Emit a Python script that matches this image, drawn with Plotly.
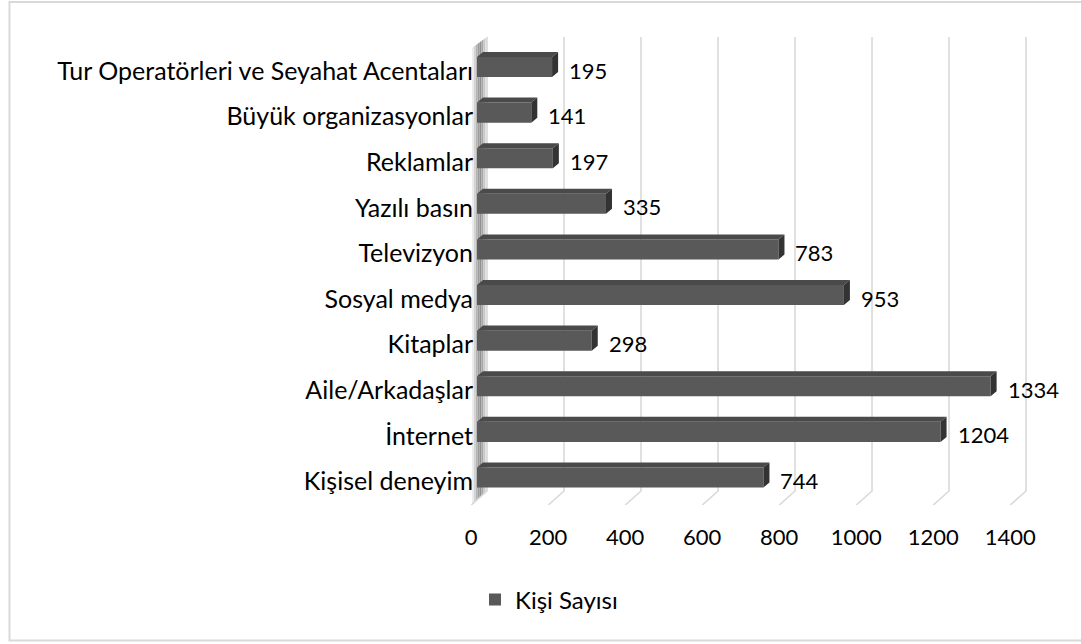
import plotly.graph_objects as go

# ---- data ----
categories = ["Kişisel deneyim", "İnternet", "Aile/Arkadaşlar", "Kitaplar", "Sosyal medya",
              "Televizyon", "Yazılı basın", "Reklamlar", "Büyük organizasyonlar",
              "Tur Operatörleri ve Seyahat Acentaları"]
values = [744, 1204, 1334, 298, 953, 783, 335, 197, 141, 195]
x_ticks = [0, 200, 400, 600, 800, 1000, 1200, 1400]
series_name = "Kişi Sayısı"

# ---- styling / 3D-look parameters (in axis units) ----
FONT = "Lato"
BAR_W = 0.44          # bar thickness (category units)
DX, DY = 15.6, 0.11   # bar depth offset
BACK_X = 26           # back wall shift
FRONT_X = -15         # floor front shift (tick label position)
X_RANGE = [-18.2, 1462.3]
Y_RANGE = [-0.603, 9.658]
Y_FLOOR_BACK = -0.296
Y_WALL_FRONT_TOP = 9.417
WALL_COLORS = ["#ededed", "#d2d2d2", "#b5b5b5", "#9c9c9c", "#909090", "#a6a6a6", "#c6c6c6", "#e0e0e0"]

ypos = list(range(len(categories)))

fig = go.Figure()

# front faces of bars
fig.add_trace(go.Bar(
    x=values, y=ypos, orientation="h", width=BAR_W, name=series_name,
    marker=dict(color="#595959", line=dict(width=0)), showlegend=True,
    hoverinfo="skip"))

# top faces and end faces
tx, ty, sx, sy = [], [], [], []
for v, yc in zip(values, ypos):
    t = yc + BAR_W / 2
    b = yc - BAR_W / 2
    tx += [0, v, v + DX, DX, 0, None]
    ty += [t, t, t + DY, t + DY, t, None]
    sx += [v, v + DX, v + DX, v, v, None]
    sy += [b, b + DY, t + DY, t, b, None]
fig.add_trace(go.Scatter(x=tx, y=ty, mode="lines", fill="toself",
                         fillcolor="#4a4a4a", line=dict(width=0, color="#4a4a4a"),
                         hoverinfo="skip", showlegend=False))
fig.add_trace(go.Scatter(x=sx, y=sy, mode="lines", fill="toself",
                         fillcolor="#333333", line=dict(width=0, color="#333333"),
                         hoverinfo="skip", showlegend=False))

# left side wall (drawn as strips below the traces)
n = len(WALL_COLORS)
for i, col in enumerate(WALL_COLORS):
    f0, f1 = i / n, (i + 1) / n
    xa = FRONT_X + 2 + f0 * (BACK_X - FRONT_X - 2)
    xb = FRONT_X + 2 + f1 * (BACK_X - FRONT_X - 2)
    ta = Y_WALL_FRONT_TOP + f0 * (Y_RANGE[1] - Y_WALL_FRONT_TOP)
    tb = Y_WALL_FRONT_TOP + f1 * (Y_RANGE[1] - Y_WALL_FRONT_TOP)
    ba = Y_RANGE[0] + f0 * (Y_FLOOR_BACK - Y_RANGE[0])
    bb = Y_RANGE[0] + f1 * (Y_FLOOR_BACK - Y_RANGE[0])
    fig.add_shape(type="path", xref="x", yref="y", layer="below",
                  path=f"M{xa},{ta} L{xb},{tb} L{xb},{bb} L{xa},{ba} Z",
                  fillcolor=col, line=dict(width=0))

# gridlines (back wall + floor diagonal), below the bars
for v in x_ticks:
    fig.add_shape(type="path", xref="x", yref="y", layer="below",
                  path=f"M{v + BACK_X},{Y_RANGE[1]} L{v + BACK_X},{Y_FLOOR_BACK} L{v + FRONT_X},{Y_RANGE[0]}",
                  line=dict(color="#d9d9d9", width=1.6))

# value labels
for v, yc in zip(values, ypos):
    fig.add_annotation(x=v, y=yc, xref="x", yref="y", text=str(v), showarrow=False,
                       xanchor="left", yanchor="middle", xshift=15, yshift=-3,
                       font=dict(family=FONT, size=22, color="#000000"))

W, H = 1081, 644
L, R, T, B = 470, 41, 37, 139
pw, ph = W - L - R, H - T - B


def px_x(p):
    return (p - L) / pw


def px_y(p):
    return 1 - (p - T) / ph


# outer border
fig.add_shape(type="rect", xref="paper", yref="paper",
              x0=px_x(9.5), x1=px_x(1090), y0=px_y(2), y1=px_y(640.5),
              line=dict(color="#d9d9d9", width=2), fillcolor="rgba(0,0,0,0)", layer="below")

fig.update_layout(
    width=W, height=H,
    margin=dict(l=L, r=R, t=T, b=B),
    paper_bgcolor="white", plot_bgcolor="white",
    font=dict(family=FONT, size=22, color="#000000"),
    xaxis=dict(range=X_RANGE, showgrid=False, zeroline=False, showline=False,
               tickvals=[v + FRONT_X for v in x_ticks], ticktext=[str(v) for v in x_ticks],
               ticks="", ticklabelstandoff=17, tickfont=dict(size=22)),
    yaxis=dict(range=Y_RANGE, showgrid=False, zeroline=False, showline=False,
               tickvals=ypos, ticktext=categories, ticks="", ticklabelstandoff=-4,
               ticklabelshift=4, tickfont=dict(size=25)),
    legend=dict(orientation="h", xref="container", yref="container",
                x=475 / W, y=1 - 600 / H, xanchor="left", yanchor="middle",
                font=dict(size=24), bgcolor="rgba(0,0,0,0)"),
)

fig.write_html("out.html", config={"displayModeBar": False},
               post_script="document.body.style.margin='0px';")
